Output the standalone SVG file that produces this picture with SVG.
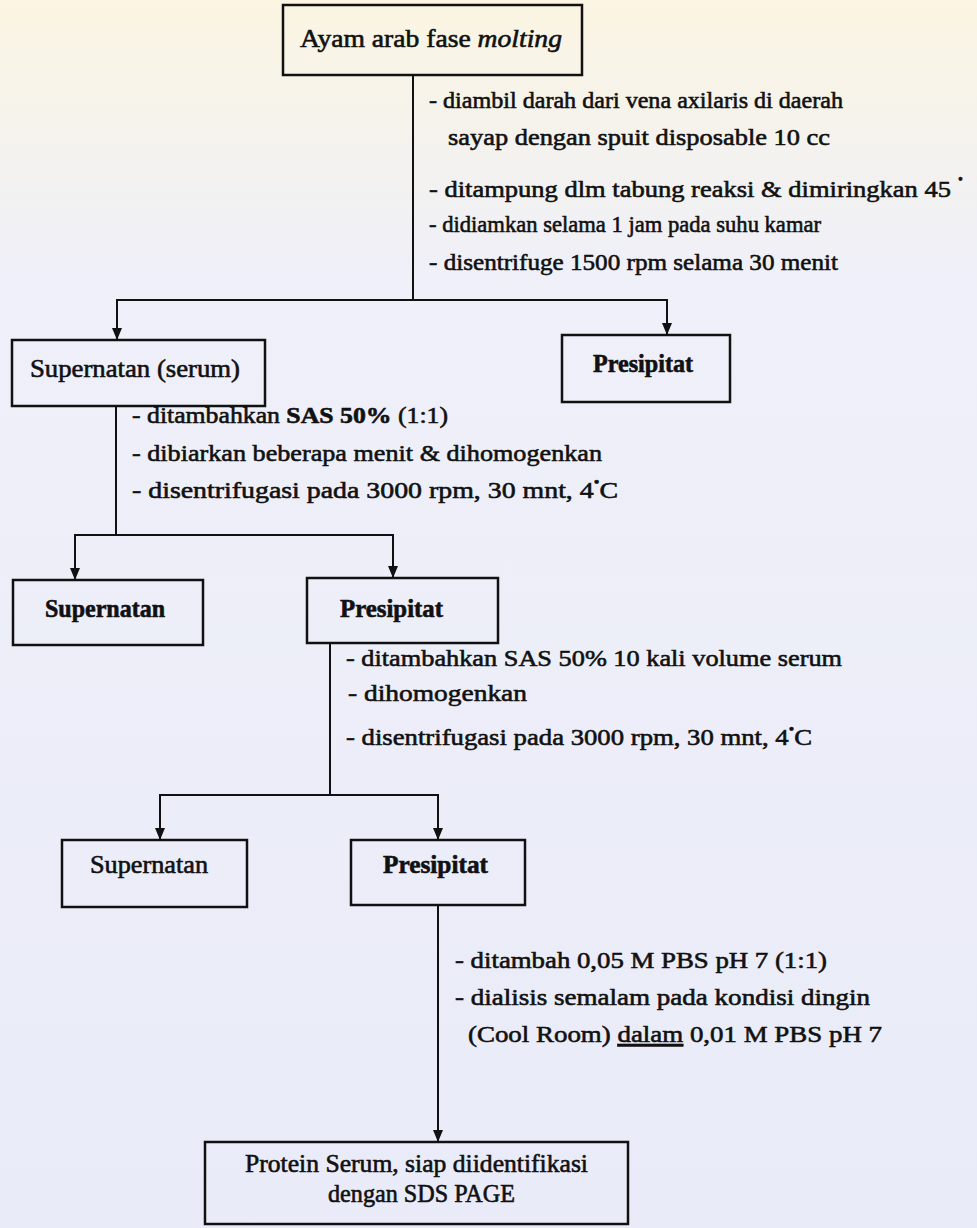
<svg xmlns="http://www.w3.org/2000/svg" width="977" height="1228" viewBox="0 0 977 1228">
<defs>
<linearGradient id="bg" x1="0" y1="0" x2="0" y2="1">
<stop offset="0" stop-color="#fbf5e2"/>
<stop offset="0.22" stop-color="#eff0f8"/>
<stop offset="1" stop-color="#e9ebf9"/>
</linearGradient>
<marker id="ah" viewBox="0 0 12 10" refX="12" refY="5" markerWidth="12" markerHeight="10" markerUnits="userSpaceOnUse" orient="auto">
<path d="M0,0 L12,5 L0,10 Z" fill="#111"/>
</marker>
</defs>
<style>
.box{fill:none;stroke:#111;stroke-width:2.5}
.ln{fill:none;stroke:#111;stroke-width:2}
.arr{fill:none;stroke:#111;stroke-width:2;marker-end:url(#ah)}
text{font-family:"Liberation Serif","Times New Roman",serif;fill:#111;stroke:#111;stroke-width:0.6}
.lbl{font-size:25px}
.ann{font-size:24px}
.deg{font-size:14px}
</style>
<rect width="977" height="1228" fill="url(#bg)"/>

<g id="connectors">
<line class="ln" x1="413" y1="75" x2="413" y2="300"/>
<line class="ln" x1="116" y1="300" x2="668" y2="300"/>
<line class="arr" x1="117" y1="300" x2="117" y2="340"/>
<line class="arr" x1="667" y1="300" x2="667" y2="335"/>
<line class="ln" x1="116" y1="406" x2="116" y2="535"/>
<line class="ln" x1="74" y1="535" x2="394" y2="535"/>
<line class="arr" x1="75" y1="535" x2="75" y2="580"/>
<line class="arr" x1="393" y1="535" x2="393" y2="578"/>
<line class="ln" x1="330" y1="643" x2="330" y2="795"/>
<line class="ln" x1="159" y1="795" x2="439" y2="795"/>
<line class="arr" x1="160" y1="795" x2="160" y2="840"/>
<line class="arr" x1="438" y1="795" x2="438" y2="840"/>
<line class="arr" x1="438" y1="905" x2="438" y2="1142"/>
</g>

<g id="node-ayam">
<rect class="box" x="283" y="5" width="299" height="70"/>
<text class="lbl" x="300" y="47" textLength="262" lengthAdjust="spacingAndGlyphs">Ayam arab fase <tspan font-style="italic">molting</tspan></text>
</g>

<g id="step-1">
<text class="ann" x="429" y="108" textLength="414" lengthAdjust="spacingAndGlyphs">- diambil darah dari vena axilaris di daerah</text>
<text class="ann" x="448" y="145" textLength="382" lengthAdjust="spacingAndGlyphs">sayap dengan spuit disposable 10 cc</text>
<text class="ann" x="429" y="197" textLength="522" lengthAdjust="spacingAndGlyphs">- ditampung dlm tabung reaksi &amp; dimiringkan 45</text>
<text class="deg" x="958" y="184">•</text>
<text class="ann" x="429" y="232" textLength="392" lengthAdjust="spacingAndGlyphs">- didiamkan selama 1 jam pada suhu kamar</text>
<text class="ann" x="429" y="270" textLength="409" lengthAdjust="spacingAndGlyphs">- disentrifuge 1500 rpm selama 30 menit</text>
</g>

<g id="node-supernatan-serum">
<rect class="box" x="12" y="340" width="253" height="66"/>
<text class="lbl" x="30" y="377" textLength="210" lengthAdjust="spacingAndGlyphs">Supernatan (serum)</text>
</g>

<g id="node-presipitat-1">
<rect class="box" x="562" y="335" width="168" height="67"/>
<text class="lbl" x="593" y="372" textLength="100" lengthAdjust="spacingAndGlyphs" font-weight="bold">Presipitat</text>
</g>

<g id="step-2">
<text class="ann" x="132" y="423" textLength="316" lengthAdjust="spacingAndGlyphs">- ditambahkan <tspan font-weight="bold">SAS 50%</tspan> (1:1)</text>
<text class="ann" x="132" y="461" textLength="470" lengthAdjust="spacingAndGlyphs">- dibiarkan beberapa menit &amp; dihomogenkan</text>
<text class="ann" x="132" y="498" textLength="486" lengthAdjust="spacingAndGlyphs">- disentrifugasi pada 3000 rpm, 30 mnt, 4<tspan class="deg" dy="-11">•</tspan><tspan dy="11">C</tspan></text>
</g>

<g id="node-supernatan-2">
<rect class="box" x="13" y="580" width="190" height="65"/>
<text class="lbl" x="45" y="617" textLength="120" lengthAdjust="spacingAndGlyphs" font-weight="bold">Supernatan</text>
</g>

<g id="node-presipitat-2">
<rect class="box" x="307" y="578" width="191" height="65"/>
<text class="lbl" x="340" y="617" textLength="103" lengthAdjust="spacingAndGlyphs" font-weight="bold">Presipitat</text>
</g>

<g id="step-3">
<text class="ann" x="346" y="666" textLength="496" lengthAdjust="spacingAndGlyphs">- ditambahkan SAS 50% 10 kali volume serum</text>
<text class="ann" x="348" y="701" textLength="179" lengthAdjust="spacingAndGlyphs">- dihomogenkan</text>
<text class="ann" x="346" y="745" textLength="466" lengthAdjust="spacingAndGlyphs">- disentrifugasi pada 3000 rpm, 30 mnt, 4<tspan class="deg" dy="-11">•</tspan><tspan dy="11">C</tspan></text>
</g>

<g id="node-supernatan-3">
<rect class="box" x="62" y="840" width="185" height="67"/>
<text class="lbl" x="90" y="873" textLength="118" lengthAdjust="spacingAndGlyphs">Supernatan</text>
</g>

<g id="node-presipitat-3">
<rect class="box" x="351" y="840" width="174" height="65"/>
<text class="lbl" x="383" y="873" textLength="105" lengthAdjust="spacingAndGlyphs" font-weight="bold">Presipitat</text>
</g>

<g id="step-4">
<text class="ann" x="455" y="968" textLength="372" lengthAdjust="spacingAndGlyphs">- ditambah 0,05 M PBS pH 7 (1:1)</text>
<text class="ann" x="455" y="1005" textLength="415" lengthAdjust="spacingAndGlyphs">- dialisis semalam pada kondisi dingin</text>
<text class="ann" x="468" y="1042" textLength="414" lengthAdjust="spacingAndGlyphs">(Cool Room) <tspan text-decoration="underline">dalam</tspan> 0,01 M PBS pH 7</text>
</g>

<g id="node-protein">
<rect class="box" x="205" y="1142" width="423" height="82"/>
<text class="lbl" x="245" y="1172" textLength="343" lengthAdjust="spacingAndGlyphs">Protein Serum, siap diidentifikasi</text>
<text class="lbl" x="328" y="1202" textLength="187" lengthAdjust="spacingAndGlyphs">dengan SDS PAGE</text>
</g>
</svg>
